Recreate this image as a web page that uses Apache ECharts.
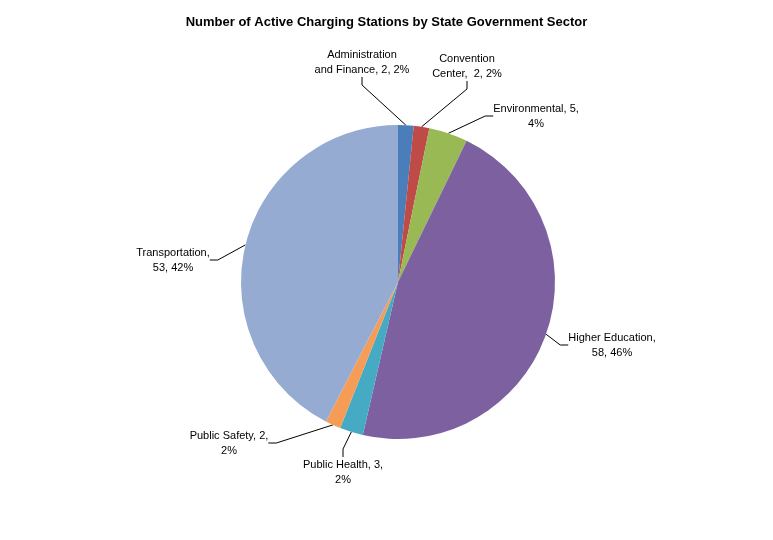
<!DOCTYPE html>
<html>
<head>
<meta charset="utf-8">
<script src="https://cdn.jsdelivr.net/npm/echarts@6/dist/echarts.min.js"></script>
<style>html,body{margin:0;background:#fff}#main{width:773px;height:540px}</style>
</head>
<body>
<div id="main"></div>
<script>
var sectors = ['Administration and Finance', 'Convention Center', 'Environmental', 'Higher Education', 'Public Health', 'Public Safety', 'Transportation'];
var stations = [2, 2, 5, 58, 3, 2, 53];
// label text with line breaks as in the original
var labelTexts = [
	'Administration\nand Finance, 2, 2%',
	'Convention\nCenter,  2, 2%',
	'Environmental, 5,\n4%',
	'Higher Education,\n58, 46%',
	'Public Health, 3,\n2%',
	'Public Safety, 2,\n2%',
	'Transportation,\n53, 42%'
];
var colors = ['#4a7ebb', '#be4b48', '#98b954', '#7d60a0', '#46aac5', '#f59d56', '#95abd2'];
// label centres
var labelPos = [[362, 62], [467, 66], [536, 116], [612, 345], [343, 472], [229, 443], [173, 260]];

var chart = echarts.init(document.getElementById('main'));
var option = {
	animation: false,
	title: {
		text: 'Number of Active Charging Stations by State Government Sector',
		left: 'center',
		top: 11,
		textStyle: { fontFamily: 'Liberation Sans', fontSize: 13, fontWeight: 'bold', color: '#000' }
	},
	series: [{
		type: 'pie',
		center: [398, 282],
		radius: 157,
		startAngle: 90,
		clockwise: true,
		data: sectors.map(function (s, i) {
			return { name: s, value: stations[i], itemStyle: { color: colors[i] } };
		}),
		label: {
			formatter: function (p) { return labelTexts[p.dataIndex]; },
			fontFamily: 'Liberation Sans',
			fontSize: 11,
			lineHeight: 15,
			color: '#000',
			align: 'center'
		},
		labelLine: { show: true, length: 8, length2: 8, lineStyle: { color: '#000', width: 1 } },
		labelLayout: function (p) {
			var pos = labelPos[p.dataIndex];
			return { x: pos[0], y: pos[1], align: 'center', verticalAlign: 'middle' };
		}
	}]
};
chart.setOption(option);
</script>
</body>
</html>
